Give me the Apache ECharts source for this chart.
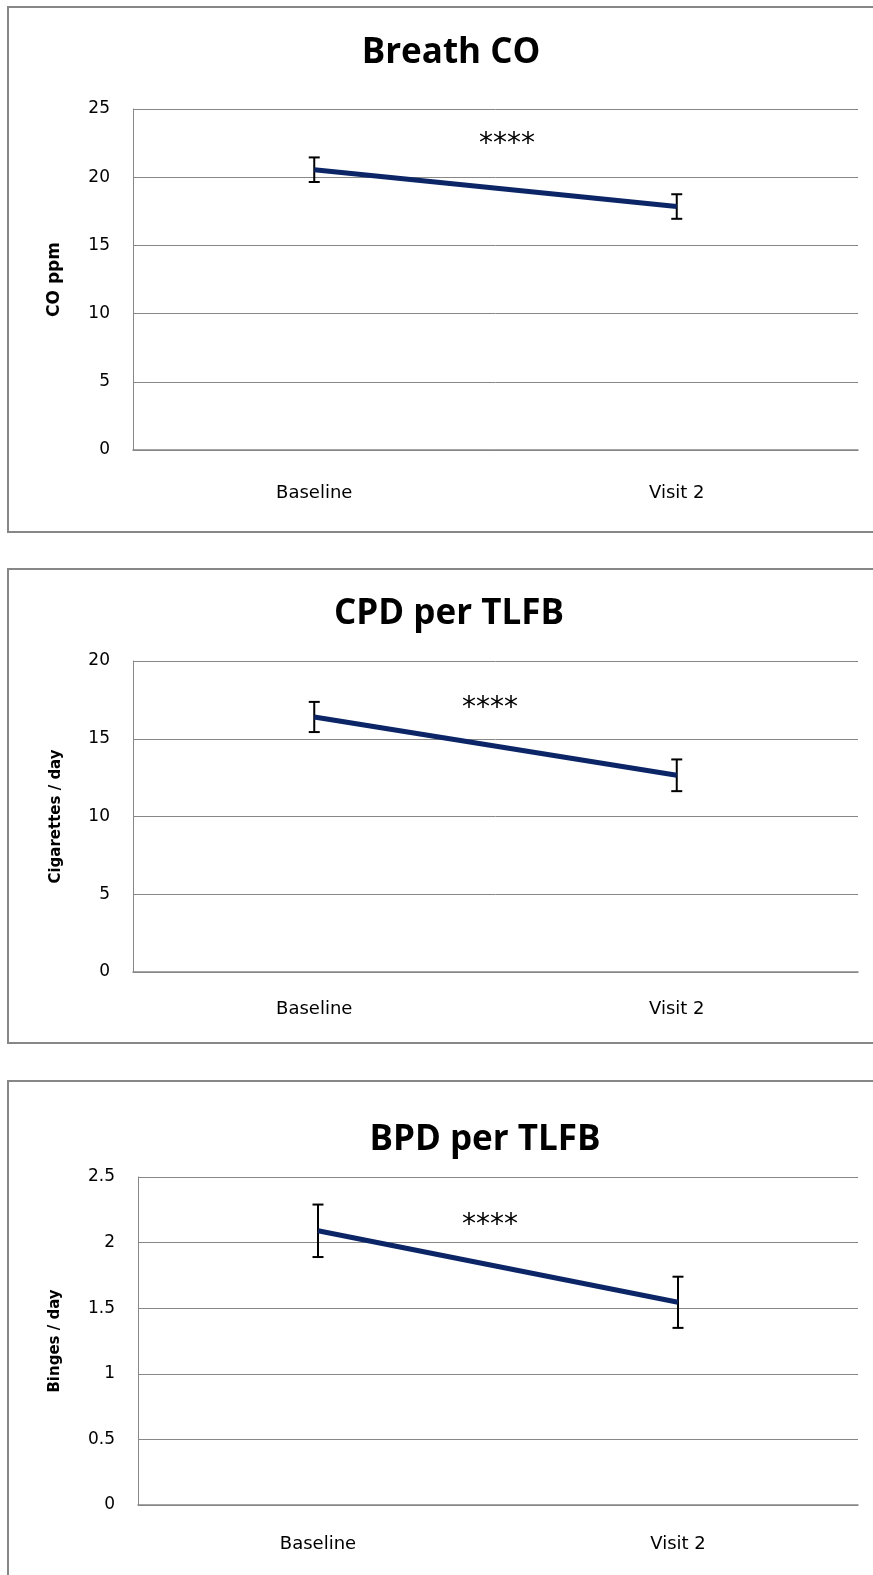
<!DOCTYPE html>
<html>
<head>
<meta charset="utf-8">
<script src="https://cdn.jsdelivr.net/npm/echarts@6/dist/echarts.min.js"></script>
<style>
  html, body { margin: 0; padding: 0; background: #ffffff; }
  body { width: 873px; height: 1575px; overflow: hidden; position: relative; }
  .box { position: absolute; left: 7px; width: 900px; box-sizing: border-box; border: 2px solid #878787; }
  #chart { position: absolute; left: 0; top: 0; width: 873px; height: 1575px; }
</style>
</head>
<body>
<div class="box" style="top:6px; height:527px;"></div>
<div class="box" style="top:568px; height:476px;"></div>
<div class="box" style="top:1080px; height:600px;"></div>
<div id="chart"></div>
<script>
const categories = ['Baseline', 'Visit 2'];

const coMean = [20.55, 17.85];
const coErr = [0.9, 0.9];

const cpdMean = [16.4, 12.65];
const cpdErr = [0.97, 1.02];

const bpdMean = [2.09, 1.545];
const bpdErr = [0.2, 0.195];

const titles = ['Breath CO', 'CPD per TLFB', 'BPD per TLFB'];
const yNames = ['CO ppm', 'Cigarettes / day', 'Binges / day'];
const significance = ['****', '****', '****'];

const chart = echarts.init(document.getElementById('chart'));

const lineColor = '#0b2566';
const gridColor = '#878787';
const labelFont = 'DejaVu Sans';

// error bar data: [category index, low, high]
function errorData(mean, err) {
    return mean.map(function(v, i) { return [i, v - err[i], v + err[i]]; });
}

function renderErrorBar(params, api) {
    const top = api.coord([api.value(0), api.value(2)]);
    const bottom = api.coord([api.value(0), api.value(1)]);
    const half = 5.5;
    const style = { stroke: '#000000', lineWidth: 2 };
    return {
        type: 'group',
        children: [
            { type: 'line', shape: { x1: top[0], y1: top[1], x2: bottom[0], y2: bottom[1] }, style: style },
            { type: 'line', shape: { x1: top[0] - half, y1: top[1], x2: top[0] + half, y2: top[1] }, style: style },
            { type: 'line', shape: { x1: bottom[0] - half, y1: bottom[1], x2: bottom[0] + half, y2: bottom[1] }, style: style }
        ]
    };
}

const grids = [
    { left: 133, top: 109, width: 725, height: 341 },
    { left: 133, top: 661, width: 725, height: 311 },
    { left: 138, top: 1177, width: 720, height: 328 }
];
const yMax = [25, 20, 2.5];
const yInterval = [5, 5, 0.5];
const yNameGap = [70, 69, 75];
const yNameSize = [17, 15, 15];
const xLabelMargin = [34, 28, 30];
const means = [coMean, cpdMean, bpdMean];
const errs = [coErr, cpdErr, bpdErr];

const titleCenters = [[446, 31], [444, 592], [480, 1118]];
const starPos = [[507, 145], [490, 709], [490, 1226]];

const option = {
    animation: false,
    title: titles.map(function(t, i) {
        return {
            text: t,
            left: titleCenters[i][0],
            top: titleCenters[i][1],
            textAlign: 'center',
            textStyle: { fontFamily: 'Open Sans', fontWeight: 'bold', fontSize: 35, color: '#000000' }
        };
    }),
    grid: grids,
    xAxis: grids.map(function(g, i) {
        return {
            type: 'category',
            gridIndex: i,
            data: categories,
            axisLine: { show: true, lineStyle: { color: gridColor, width: 1.5 } },
            axisTick: { show: false },
            axisLabel: { color: '#000000', fontFamily: labelFont, fontSize: 18, margin: xLabelMargin[i] }
        };
    }),
    yAxis: grids.map(function(g, i) {
        return {
            type: 'value',
            gridIndex: i,
            min: 0,
            max: yMax[i],
            interval: yInterval[i],
            name: yNames[i],
            nameLocation: 'middle',
            nameRotate: 90,
            nameGap: yNameGap[i],
            nameTextStyle: { fontFamily: labelFont, fontWeight: 'bold', fontSize: yNameSize[i], color: '#000000' },
            axisLine: { show: true, lineStyle: { color: gridColor, width: 1 } },
            axisTick: { show: false },
            axisLabel: { color: '#000000', fontFamily: labelFont, fontSize: 17, margin: 23 },
            splitLine: { show: true, lineStyle: { color: gridColor, width: 1 } }
        };
    }),
    graphic: starPos.map(function(p, i) {
        return {
            type: 'text',
            x: p[0],
            y: p[1],
            style: {
                text: significance[i],
                fill: '#000000',
                font: '28px "DejaVu Sans"',
                textAlign: 'center',
                textVerticalAlign: 'middle'
            }
        };
    }),
    series: []
};

for (let i = 0; i < 3; i++) {
    option.series.push({
        type: 'custom',
        xAxisIndex: i,
        yAxisIndex: i,
        z: 1,
        renderItem: renderErrorBar,
        data: errorData(means[i], errs[i])
    });
    option.series.push({
        type: 'line',
        xAxisIndex: i,
        yAxisIndex: i,
        z: 3,
        data: means[i],
        showSymbol: false,
        symbol: 'none',
        lineStyle: { color: lineColor, width: 5 }
    });
}

chart.setOption(option);
</script>
</body>
</html>
